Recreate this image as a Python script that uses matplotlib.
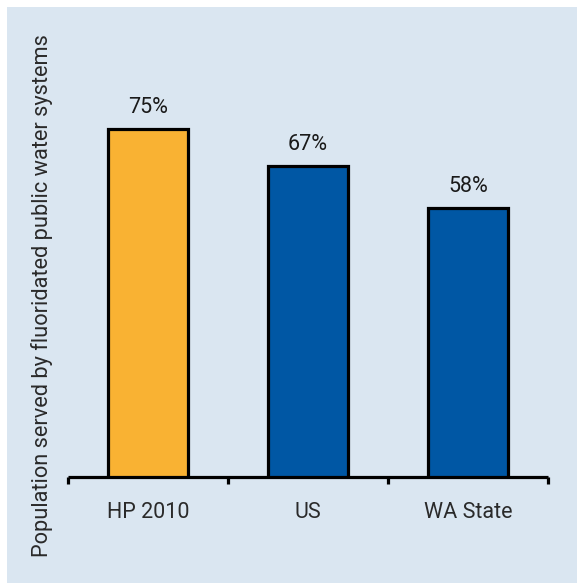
import matplotlib
matplotlib.use("Agg")
import matplotlib.pyplot as plt
from matplotlib.patches import Rectangle

categories = ["HP 2010", "US", "WA State"]
values = [75, 67, 58]
labels = ["75%", "67%", "58%"]
colors = ["#f9b233", "#0057a4", "#0057a4"]

plt.rcParams['font.family'] = ['Roboto', 'DejaVu Sans']

W, H = 577, 583
fig = plt.figure(figsize=(W/100, H/100), dpi=100)
fig.patch.set_facecolor("white")
fig.patches.append(Rectangle((7/W, 0), 1, 1 - 7/H, transform=fig.transFigure,
                             facecolor="#dae6f1", edgecolor="none", zorder=-5))

# axes: x from 68 to 548 px, baseline at y=477 px; 4.64 px per unit
x0, x1 = 68, 548
yb = 477
ppu = 4.64
ytop_val = 100
ax = fig.add_axes([x0/W, (H - yb)/H, (x1 - x0)/W, ytop_val*ppu/H])
ax.set_facecolor("none")
ax.set_xlim(0, 3)
ax.set_ylim(0, ytop_val)
xs = [0.5, 1.5, 2.5]
ax.bar(xs, values, width=0.5, color=colors, edgecolor="black", linewidth=2.3, zorder=3)
for x, v, l in zip(xs, values, labels):
    ax.text(x, v + 2.3, l, ha="center", va="bottom", fontsize=15.5, color="#1a1a1a")

for s in ["top", "right", "left"]:
    ax.spines[s].set_visible(False)
ax.spines["bottom"].set_linewidth(2.3)
ax.spines["bottom"].set_capstyle("butt")
ax.set_yticks([])
ax.set_xticks([0, 1, 2, 3])
ax.set_xticklabels([])
ax.tick_params(axis="x", direction="out", length=5, width=2.3, color="black")
for x, c in zip(xs, categories):
    ax.text(x, -5.4, c, ha="center", va="top", fontsize=15.5, color="#2a2a2a")

fig.text(42/W, 1 - 296/H, "Population served by fluoridated public water systems",
         rotation=90, ha="center", va="center", fontsize=15.7, color="#2a2a2a")

fig.savefig("out.png", dpi=100, facecolor=fig.get_facecolor())
